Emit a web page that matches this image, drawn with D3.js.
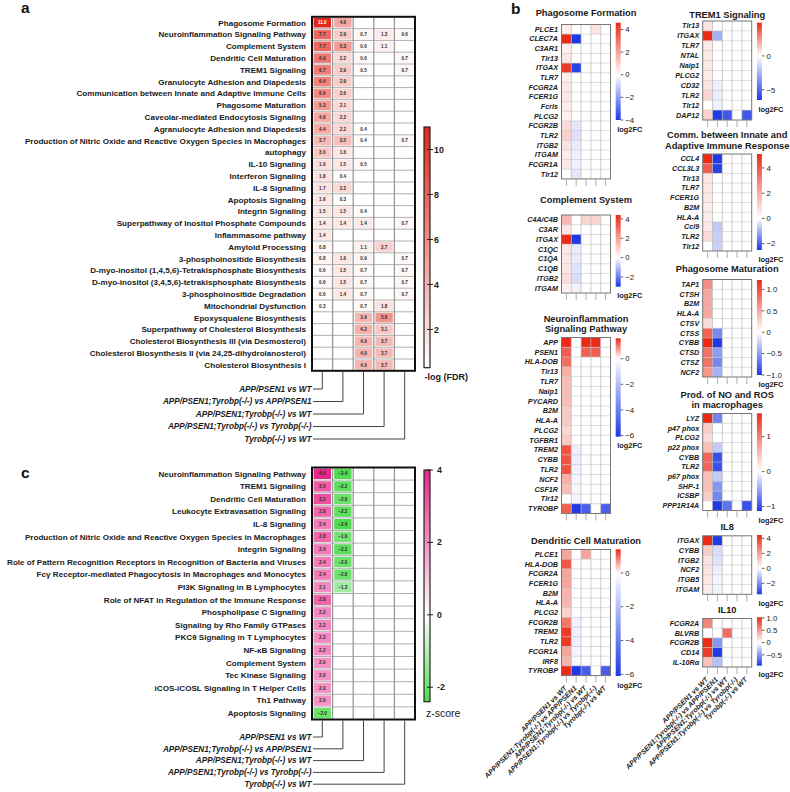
<!DOCTYPE html>
<html><head><meta charset="utf-8">
<script src="https://cdn.jsdelivr.net/npm/d3@7"></script>
<style>
html,body{margin:0;padding:0;background:#fff;}
svg{display:block;font-family:"Liberation Sans",Arial,Helvetica,sans-serif;}
</style></head><body>
<svg id="chart" width="790" height="792"></svg>
<script>
// ---------------- DATA ----------------
const comparisons = ["APP/PSEN1 vs WT","APP/PSEN1;Tyrobp(-/-) vs APP/PSEN1","APP/PSEN1;Tyrobp(-/-) vs WT","APP/PSEN1;Tyrobp(-/-) vs Tyrobp(-/-)","Tyrobp(-/-) vs WT"];

// Panel a: -log(FDR)
const aPathways = ["Phagosome Formation","Neuroinflammation Signaling Pathway","Complement System","Dendritic Cell Maturation","TREM1 Signaling","Granulocyte Adhesion and Diapedesis","Communication between Innate and Adaptive Immune Cells","Phagosome Maturation","Caveolar-mediated Endocytosis Signaling","Agranulocyte Adhesion and Diapedesis","Production of Nitric Oxide and Reactive Oxygen Species in Macrophages","autophagy","IL-10 Signaling","Interferon Signaling","IL-8 Signaling","Apoptosis Signaling","Integrin Signaling","Superpathway of Inositol Phosphate Compounds","Inflammasome pathway","Amyloid Processing","3-phosphoinositide Biosynthesis","D-myo-inositol (1,4,5,6)-Tetrakisphosphate Biosynthesis","D-myo-inositol (3,4,5,6)-tetrakisphosphate Biosynthesis","3-phosphoinositide Degradation","Mitochondrial Dysfunction","Epoxysqualene Biosynthesis","Superpathway of Cholesterol Biosynthesis","Cholesterol Biosynthesis III (via Desmosterol)","Cholesterol Biosynthesis II (via 24,25-dihydrolanosterol)","Cholesterol Biosynthesis I"];
const aValues = [
 [11.0,4.6,null,null,null],
 [7.7,2.9,0.7,1.3,0.6],
 [7.7,5.3,0.6,1.1,null],
 [6.9,2.2,0.6,null,0.7],
 [6.7,2.9,0.5,null,0.7],
 [6.4,2.9,null,null,null],
 [6.0,2.6,null,null,null],
 [5.3,2.1,null,null,null],
 [4.6,2.2,null,null,null],
 [4.4,2.2,0.4,null,null],
 [3.7,3.5,0.4,null,0.7],
 [3.0,1.6,null,null,null],
 [1.9,1.5,0.5,null,null],
 [1.8,0.4,null,null,null],
 [1.7,2.2,null,null,null],
 [1.6,0.3,null,null,null],
 [1.5,1.5,0.4,null,null],
 [1.4,1.4,1.4,null,0.7],
 [1.4,null,null,null,null],
 [0.8,null,1.1,2.7,null],
 [0.8,1.6,0.9,null,0.7],
 [0.6,1.5,0.7,null,0.7],
 [0.6,1.5,0.7,null,0.7],
 [0.6,1.4,0.7,null,0.7],
 [0.3,null,0.7,1.8,null],
 [null,null,3.9,5.6,null],
 [null,null,4.2,3.1,null],
 [null,null,4.0,3.7,null],
 [null,null,4.0,3.7,null],
 [null,null,4.0,3.7,null]
];
const aTicks = [2,4,6,8,10];

// Panel c: z-score
const cPathways = ["Neuroinflammation Signaling Pathway","TREM1 Signaling","Dendritic Cell Maturation","Leukocyte Extravasation Signaling","IL-8 Signaling","Production of Nitric Oxide and Reactive Oxygen Species in Macrophages","Integrin Signaling","Role of Pattern Recognition Receptors in Recognition of Bacteria and Viruses","Fcγ Receptor-mediated Phagocytosis in Macrophages and Monocytes","PI3K Signaling in B Lymphocytes","Role of NFAT in Regulation of the Immune Response","Phospholipase C Signaling","Signaling by Rho Family GTPases","PKCθ Signaling in T Lymphocytes","NF-κB Signaling","Complement System","Tec Kinase Signaling","iCOS-iCOSL Signaling in T Helper Cells","Th1 Pathway","Apoptosis Signaling"];
const cValues = [
 [4.0,-2.4,null,null,null],
 [3.0,-2.2,null,null,null],
 [3.2,-2.0,null,null,null],
 [2.8,-2.2,null,null,null],
 [2.4,-2.4,null,null,null],
 [2.8,-1.9,null,null,null],
 [2.4,-2.2,null,null,null],
 [2.4,-2.0,null,null,null],
 [2.4,-2.0,null,null,null],
 [2.1,-1.3,null,null,null],
 [2.8,null,null,null,null],
 [2.2,null,null,null,null],
 [2.2,null,null,null,null],
 [2.2,null,null,null,null],
 [2.2,null,null,null,null],
 [2.0,null,null,null,null],
 [2.0,null,null,null,null],
 [2.0,null,null,null,null],
 [2.0,null,null,null,null],
 [-2.0,null,null,null,null]
];
const cTicks = [-2,0,2,4];

// Panel b: log2FC per pathway
const phagFormGenes = ["PLCE1","CLEC7A","C3AR1","Tlr13","ITGAX","TLR7","FCGR2A","FCER1G","Fcrls","PLCG2","FCGR2B","TLR2","ITGB2","ITGAM","FCGR1A","Tlr12"];
const phagFormValues = [
 [0.4,0,0,0.6,0],[4.6,-4.0,0,0,0],[0.3,0,0,0,0],[0.5,0,0,0,0],[4.3,-3.8,0,0,0],[0.4,0,0,0,0],
 [0.5,0,0,0,0],[0.5,0,0,0,0],[0.4,0,0,0,0],[0.3,0,0,0,0],[0.8,-0.5,0,0,0],[1.0,-0.6,0,0,0],
 [0.6,-0.4,0,0,0],[0.4,-0.3,0,0,0],[0.5,-0.3,0,0,0],[0,-0.5,0,0,0]];
const phagFormTicks = [4,2,0,-2,-4];

const complementGenes = ["C4A/C4B","C3AR","ITGAX","C1QC","C1QA","C1QB","ITGB2","ITGAM"];
const complementValues = [
 [1.5,0,0.9,0.9,0],[0.5,0,0,0,0],[4.4,-3.0,0,0,0],[0.5,-0.3,0,0,0],[0.5,-0.3,0,0,0],
 [0.5,-0.4,0,0,0],[0.7,-0.5,0,0,0],[0.3,-0.2,0,0,0]];
const complementTicks = [4,2,0,-2];

const neuroGenes = ["APP","PSEN1","HLA-DOB","Tlr13","TLR7","Naip1","PYCARD","B2M","HLA-A","PLCG2","TGFBR1","TREM2","CYBB","TLR2","NCF2","CSF1R","Tlr12","TYROBP"];
const neuroValues = [
 [1.6,0,1.6,1.6,0],[1.2,0,1.2,1.2,0],[1.1,0,0,0,0],[0.6,0,0,0,0],[0.5,0,0,0,0],[0.5,0,0,0,0],
 [0.5,0,0,0,0],[0.4,0,0,0,0],[0.4,0,0,0,0],[0.3,0,0,0,0],[0.4,0,0,0,0],[1.3,-0.5,0,0,0],
 [1.3,-0.5,0,0,0],[1.3,-0.4,0,0,0],[0.6,-0.3,0,0,0],[0.5,-0.2,0,0,0],[0,-0.3,0,0,0],[1.2,-6.1,-5.0,0,-5.0]];
const neuroTicks = [0,-2,-4,-6];

const dendriticGenes = ["PLCE1","HLA-DOB","FCGR2A","FCER1G","B2M","HLA-A","PLCG2","FCGR2B","TREM2","TLR2","FCGR1A","IRF8","TYROBP"];
const dendriticValues = [
 [0.6,0,0.6,0,0],[1.1,0,0,0,0],[0.6,0,0,0,0],[0.6,0,0,0,0],[0.5,0,0,0,0],[0.5,0,0,0,0],
 [0.3,0,0,0,0],[0.9,-0.4,0,0,0],[1.3,-0.5,0,0,0],[1.3,-0.5,0,0,0],[0.6,-0.3,0,0,0],
 [0.5,-0.2,0,0,0],[1.4,-6.1,-5.0,0,-5.0]];
const dendriticTicks = [0,-2,-4,-6];

const trem1Genes = ["Tlr13","ITGAX","TLR7","NTAL","Naip1","PLCG2","CD32","TLR2","Tlr12","DAP12"];
const trem1Values = [
 [0.6,0,0,0,0],[4.9,-2.6,0,0,0],[0.5,0,0,0,0],[0.5,0,0,0,0],[0.5,0,0,0,0],[0.4,0,0,0,0],
 [0.6,-0.5,0,0,0],[0.9,-0.6,0,0,0],[0,-0.5,0,0,0],[1.0,-6.5,-5.5,0,-5.5]];
const trem1Ticks = [0,-5];

const commGenes = ["CCL4","CCL3L3","Tlr13","TLR7","FCER1G","B2M","HLA-A","Ccl9","TLR2","Tlr12"];
const commValues = [
 [5.1,-2.5,0,0,0],[3.9,-2.4,0,0,0],[0.6,0,0,0,0],[0.5,0,0,0,0],[0.5,0,0,0,0],[0.4,0,0,0,0],
 [0.4,0,0,0,0],[0.6,-0.7,0,0,0],[0.9,-0.6,0,0,0],[0,-0.6,0,0,0]];
const commTicks = [4,2,0,-2];

const phagMatGenes = ["TAP1","CTSH","B2M","HLA-A","CTSV","CTSS","CYBB","CTSD","CTSZ","NCF2"];
const phagMatValues = [
 [0.65,0,0,0,0],[0.5,0,0,0,0],[0.5,0,0,0,0],[0.5,0,0,0,0],[0.2,0,0,0,0],[0.9,-0.6,0,0,0],
 [1.22,-1.0,0,0,0],[0.8,-0.5,0,0,0],[0.8,-0.6,0,0,0],[0.6,-0.4,0,0,0]];
const phagMatTicks = [1.0,0.5,0,-0.5,-1.0];

const prodNOGenes = ["LYZ","p47 phox","PLCG2","p22 phox","CYBB","TLR2","p67 phox","SHP-1","ICSBP","PPP1R14A"];
const prodNOValues = [
 [1.67,-0.7,0,0,0],[0.4,0,0,0,0],[0.3,0,0,0,0],[0.5,-0.3,0,0,0],[1.2,-1.0,0,0,0],[1.2,-1.0,0,0,0],
 [0.5,-0.3,0,0,0],[0.5,-0.6,0,0,0],[0.4,-0.7,0,0,0],[0,-1.13,-0.8,0,-1.0]];
const prodNOTicks = [1,0,-1];

const il8Genes = ["ITGAX","CYBB","ITGB2","NCF2","ITGB5","ITGAM"];
const il8Values = [
 [4.45,-3.47,0,0,0],[1.0,-0.6,0,0,0],[0.6,-0.5,0,0,0],[0.6,-0.3,0,0,0],[0.5,-0.2,0,0,0],[0.4,-0.2,0,0,0]];
const il8Ticks = [4,2,0,-2];

const il10Genes = ["FCGR2A","BLVRB","FCGR2B","CD14","IL-10Rα"];
const il10Values = [
 [0.6,0,0,0,0],[0,0,0.7,0,0],[1.03,-0.5,0,0,0],[0.95,-0.94,0,0,0],[0.3,-0.3,0,0,0]];
const il10Ticks = [1.0,0.5,0,-0.5];

// ---------------- DRAWING ----------------
const svg = d3.select("#chart");
const defs = svg.append("defs");
let gradCount = 0;
function vGradient(color, lo, hi) {
  const id = "grad" + (gradCount++);
  const lg = defs.append("linearGradient").attr("id", id)
    .attr("x1", 0).attr("y1", 1).attr("x2", 0).attr("y2", 0);
  d3.range(0, 1.0001, 0.02).forEach(t => {
    lg.append("stop").attr("offset", t).attr("stop-color", color(lo + t * (hi - lo)));
  });
  return id;
}

// Panel letters
[["a", 21, 13], ["b", 511, 14], ["c", 21, 478]].forEach(([t, x, y]) =>
  svg.append("text").attr("x", x).attr("y", y).attr("font-size", 15.5)
    .attr("font-weight", "bold").attr("fill", "#111").text(t));

function bigHeatmap(cfg) {
  const g = svg.append("g");
  const x = d3.scaleBand().domain(comparisons).range([cfg.x0, cfg.x1]);
  const y = d3.scaleBand().domain(cfg.rows).range([cfg.y0, cfg.y1]);
  g.selectAll("text.row").data(cfg.rows).join("text")
    .attr("x", cfg.x0 - 6).attr("y", d => y(d) + y.bandwidth() / 2).attr("dy", "0.35em")
    .attr("text-anchor", "end").attr("font-size", 8.1).attr("font-weight", "bold")
    .attr("fill", "#1a1a1a").text(d => d);
  const cells = [];
  cfg.values.forEach((row, i) => row.forEach((v, j) => {
    if (v !== null) cells.push({ r: cfg.rows[i], c: comparisons[j], v });
  }));
  g.selectAll("rect.cell").data(cells).join("rect")
    .attr("x", d => x(d.c) + 1.6).attr("y", d => y(d.r) + 1.1)
    .attr("width", x.bandwidth() - 3.2).attr("height", y.bandwidth() - 2.2)
    .attr("fill", d => cfg.color(d.v));
  // grid
  cfg.rows.slice(1).forEach(r => g.append("line")
    .attr("x1", cfg.x0).attr("x2", cfg.x1).attr("y1", y(r)).attr("y2", y(r))
    .attr("stroke", "#9a9a9a").attr("stroke-width", 0.8));
  comparisons.slice(1).forEach(c => g.append("line")
    .attr("x1", x(c)).attr("x2", x(c)).attr("y1", cfg.y0).attr("y2", cfg.y1)
    .attr("stroke", "#9a9a9a").attr("stroke-width", 1.3));
  g.selectAll("text.val").data(cells).join("text")
    .attr("x", d => x(d.c) + x.bandwidth() / 2).attr("y", d => y(d.r) + y.bandwidth() / 2)
    .attr("dy", "0.35em").attr("text-anchor", "middle").attr("font-size", 4.6)
    .attr("font-weight", "bold").attr("fill", d => d.v > 9 ? "#fff" : "#2a2a2a")
    .text(d => d3.format(".1f")(d.v));
  g.append("rect").attr("x", cfg.x0).attr("y", cfg.y0)
    .attr("width", cfg.x1 - cfg.x0).attr("height", cfg.y1 - cfg.y0)
    .attr("fill", "none").attr("stroke", "#111").attr("stroke-width", 2);
  comparisons.forEach((c, i) => {
    const ly = cfg.labelY0 + i * cfg.labelStep;
    const cx = x(c) + x.bandwidth() / 2;
    g.append("path").attr("d", `M${cx},${cfg.y1 + 1}V${ly}H${cfg.x0 + 1}`)
      .attr("fill", "none").attr("stroke", "#444").attr("stroke-width", 1);
    g.append("text").attr("x", cfg.x0 - 0.5).attr("y", ly).attr("dy", "0.35em")
      .attr("text-anchor", "end").attr("font-size", 8.2).attr("font-weight", "bold")
      .attr("font-style", "italic").attr("fill", "#1a1a1a").text(c);
  });
  // colorbar
  const cb = cfg.cb;
  const yc = d3.scaleLinear().domain(cfg.domain).range([cb.y1, cb.y0]);
  const id = vGradient(cfg.color, cfg.domain[0], cfg.domain[1]);
  g.append("rect").attr("x", cb.x).attr("y", cb.y0).attr("width", 6).attr("height", cb.y1 - cb.y0)
    .attr("fill", `url(#${id})`).attr("stroke", "#222").attr("stroke-width", 1.2);
  cfg.ticks.forEach(t => {
    g.append("line").attr("x1", cb.x + 3).attr("x2", cb.x + 9).attr("y1", yc(t)).attr("y2", yc(t))
      .attr("stroke", "#222").attr("stroke-width", 1);
    g.append("text").attr("x", cb.x + cb.labelDx).attr("y", yc(t)).attr("dy", "0.35em")
      .attr("font-size", 8.8).attr("font-weight", "bold").attr("fill", "#1a1a1a").text(t);
  });
  g.append("text").attr("x", cb.titleX).attr("y", cb.titleY).attr("dy", "0.35em")
    .attr("font-size", cb.titleSize).attr("font-weight", cb.titleWeight).attr("fill", "#1a1a1a").text(cb.title);
}

const aFlat = aValues.flat().filter(v => v !== null);
const aDomain = [d3.min(aFlat), d3.max(aFlat)];
bigHeatmap({
  rows: aPathways, values: aValues, x0: 312, x1: 415, y0: 16.8, y1: 370.8,
  color: d3.scaleLinear().domain(aDomain).range(["#ffffff", "#e4261a"]),
  domain: aDomain, ticks: aTicks, labelY0: 389, labelStep: 12.5,
  cb: { x: 424, y0: 127, y1: 367.7, labelDx: 10, title: "-log (FDR)", titleX: 424.5, titleY: 377, titleSize: 9, titleWeight: "bold" }
});

const cFlat = cValues.flat().filter(v => v !== null);
const cDomain = [d3.min(cFlat), d3.max(cFlat)];
bigHeatmap({
  rows: cPathways, values: cValues, x0: 312, x1: 415, y0: 467.5, y1: 719.5,
  color: d3.scaleLinear().domain([cDomain[0], 0, cDomain[1]]).range(["#4fdb4f", "#ffffff", "#e6268a"]),
  domain: cDomain, ticks: cTicks, labelY0: 737, labelStep: 11.8,
  cb: { x: 424, y0: 470, y1: 701.7, labelDx: 13, title: "z-score", titleX: 426, titleY: 713, titleSize: 10.5, titleWeight: "normal" }
});

// -------- panel b small heatmaps --------
function smallHeatmap(cfg) {
  const g = svg.append("g");
  const w = 49;
  const x = d3.scaleBand().domain(comparisons).range([cfg.x0, cfg.x0 + w]);
  const y1 = cfg.y0 + cfg.genes.length * cfg.rowH;
  const y = d3.scaleBand().domain(cfg.genes).range([cfg.y0, y1]);
  const flat = cfg.values.flat();
  const lo = d3.min(flat), hi = d3.max(flat);
  const color = d3.scaleLinear().domain([lo, 0, hi]).range(["#1d3ae6", "#ffffff", "#ea2b18"]);
  const cx = cfg.x0 + w / 2;
  cfg.title.forEach((t, k) => g.append("text").attr("x", cx).attr("y", cfg.titleY[k]).attr("dy", "0.35em")
    .attr("text-anchor", "middle").attr("font-size", 9.3).attr("font-weight", "bold").attr("fill", "#1a1a1a").text(t));
  g.selectAll("text.gene").data(cfg.genes).join("text")
    .attr("x", cfg.x0 - 3.5).attr("y", d => y(d) + y.bandwidth() / 2).attr("dy", "0.35em")
    .attr("text-anchor", "end").attr("font-size", 7.2).attr("font-weight", "bold").attr("font-style", "italic")
    .attr("fill", "#1a1a1a").text(d => d);
  const cells = [];
  cfg.values.forEach((row, i) => row.forEach((v, j) => cells.push({ r: cfg.genes[i], c: comparisons[j], v })));
  g.selectAll("rect.cell").data(cells).join("rect")
    .attr("x", d => x(d.c)).attr("y", d => y(d.r)).attr("width", x.bandwidth()).attr("height", y.bandwidth())
    .attr("fill", d => color(d.v));
  cfg.genes.slice(1).forEach(r => g.append("line").attr("x1", cfg.x0).attr("x2", cfg.x0 + w)
    .attr("y1", y(r)).attr("y2", y(r)).attr("stroke", "#c4c4c4").attr("stroke-width", 0.6));
  comparisons.slice(1).forEach(c => g.append("line").attr("x1", x(c)).attr("x2", x(c))
    .attr("y1", cfg.y0).attr("y2", y1).attr("stroke", "#b8b8b8").attr("stroke-width", 0.7));
  g.append("rect").attr("x", cfg.x0).attr("y", cfg.y0).attr("width", w).attr("height", y1 - cfg.y0)
    .attr("fill", "none").attr("stroke", "#777").attr("stroke-width", 1);
  comparisons.forEach(c => g.append("line").attr("x1", x(c) + x.bandwidth() / 2).attr("x2", x(c) + x.bandwidth() / 2)
    .attr("y1", y1).attr("y2", y1 + 7).attr("stroke", "#999").attr("stroke-width", 0.8));
  if (cfg.colLabels) {
    comparisons.forEach(c => {
      const px = x(c) + x.bandwidth() / 2 + 1, py = y1 + 13;
      g.append("text").attr("transform", `translate(${px},${py}) rotate(-45)`)
        .attr("text-anchor", "end").attr("font-size", 7).attr("font-weight", "bold").attr("font-style", "italic")
        .attr("fill", "#1a1a1a").text(c);
    });
  }
  // colorbar
  const cbx = cfg.x0 + w + 5.2;
  const yc = d3.scaleLinear().domain([lo, hi]).range([cfg.cbBottom, cfg.cbTop]);
  const id = vGradient(color, lo, hi);
  g.append("rect").attr("x", cbx).attr("y", cfg.cbTop).attr("width", 5).attr("height", cfg.cbBottom - cfg.cbTop)
    .attr("fill", `url(#${id})`);
  const fmt = cfg.fmt || (d => d3.format("")(d));
  cfg.ticks.forEach(t => {
    g.append("line").attr("x1", cbx + 5).attr("x2", cbx + 7.5).attr("y1", yc(t)).attr("y2", yc(t))
      .attr("stroke", "#333").attr("stroke-width", 0.8);
    g.append("text").attr("x", cbx + 9.5).attr("y", yc(t)).attr("dy", "0.35em")
      .attr("font-size", 7.8).attr("fill", "#222").text(fmt(t));
  });
  g.append("text").attr("x", cbx + 1.5).attr("y", cfg.cbBottom + 9).attr("dy", "0.35em")
    .attr("font-size", 7.4).attr("font-weight", "bold").attr("fill", "#1a1a1a").text("log2FC");
}

const fmt1 = d => d === 0 ? "0" : d3.format(".1f")(d);
const LX = 561.5, RX = 702.7;
smallHeatmap({ title: ["Phagosome Formation"], titleY: [13], genes: phagFormGenes, values: phagFormValues,
  x0: LX, y0: 24.5, rowH: 9.65, cbTop: 22.7, cbBottom: 120, ticks: phagFormTicks });
smallHeatmap({ title: ["Complement System"], titleY: [200], genes: complementGenes, values: complementValues,
  x0: LX, y0: 215, rowH: 9.75, cbTop: 215, cbBottom: 286.7, ticks: complementTicks });
smallHeatmap({ title: ["Neuroinflammation", "Signaling Pathway"], titleY: [319, 329], genes: neuroGenes, values: neuroValues,
  x0: LX, y0: 337.5, rowH: 9.78, cbTop: 338.3, cbBottom: 436.7, ticks: neuroTicks });
smallHeatmap({ title: ["Dendritic Cell Maturation"], titleY: [540.7], genes: dendriticGenes, values: dendriticValues,
  x0: LX, y0: 549.5, rowH: 9.7, cbTop: 549.3, cbBottom: 676, ticks: dendriticTicks, colLabels: true });
smallHeatmap({ title: ["TREM1 Signaling"], titleY: [15], genes: trem1Genes, values: trem1Values,
  x0: RX, y0: 21, rowH: 9.9, cbTop: 22.7, cbBottom: 100, ticks: trem1Ticks });
smallHeatmap({ title: ["Comm. between Innate and", "Adaptive Immune Response"], titleY: [135, 145.7], genes: commGenes, values: commValues,
  x0: RX, y0: 154, rowH: 9.7, cbTop: 154, cbBottom: 250, ticks: commTicks });
smallHeatmap({ title: ["Phagosome Maturation"], titleY: [268.3], genes: phagMatGenes, values: phagMatValues,
  x0: RX, y0: 279.5, rowH: 9.75, cbTop: 280, cbBottom: 375, ticks: phagMatTicks, fmt: fmt1 });
smallHeatmap({ title: ["Prod. of NO and ROS", "in macrophages"], titleY: [394.3, 404.5], genes: prodNOGenes, values: prodNOValues,
  x0: RX, y0: 413.5, rowH: 9.7, cbTop: 413.3, cbBottom: 511, ticks: prodNOTicks });
smallHeatmap({ title: ["IL8"], titleY: [526.7], genes: il8Genes, values: il8Values,
  x0: RX, y0: 535.8, rowH: 9.75, cbTop: 535, cbBottom: 594.3, ticks: il8Ticks });
smallHeatmap({ title: ["IL10"], titleY: [610], genes: il10Genes, values: il10Values,
  x0: RX, y0: 618.5, rowH: 9.7, cbTop: 617.3, cbBottom: 665.7, ticks: il10Ticks, fmt: fmt1, colLabels: true });
</script>
</body></html>
